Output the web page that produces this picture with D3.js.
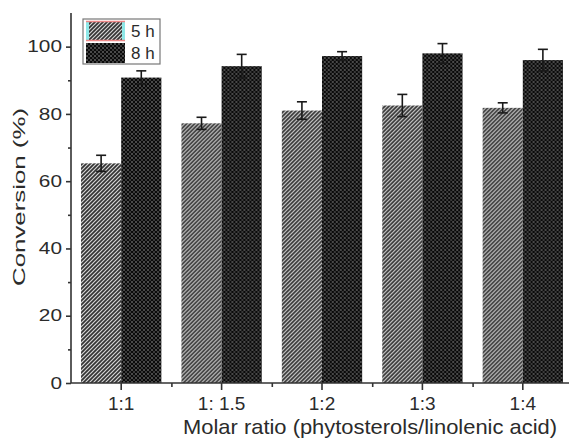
<!DOCTYPE html>
<html>
<head>
<meta charset="utf-8">
<script src="https://cdn.jsdelivr.net/npm/d3@7"></script>
<style>
  body { margin: 0; background: #fff; }
  svg text { font-family: "Liberation Sans", Arial, sans-serif; fill: #2b2b2b; }
</style>
</head>
<body>
<div id="chart"></div>
<script>
// data
const ratios = ["1:1", "1: 1.5", "1:2", "1:3", "1:4"];
const series = ["5 h", "8 h"];
const conv5h = [65.3, 77.2, 81.0, 82.5, 81.8];
const err5h  = [2.4, 1.8, 2.6, 3.3, 1.5];
const conv8h = [90.8, 94.2, 97.2, 98.0, 96.0];
const err8h  = [2.0, 3.5, 1.3, 2.9, 3.2];
const yTicks = [0, 20, 40, 60, 80, 100];
const yMinor = [10, 30, 50, 70, 90];

let rows = ratios.map((r, i) => ({
  ratio: r,
  vals: [{s: series[0], v: conv5h[i], e: err5h[i]}, {s: series[1], v: conv8h[i], e: err8h[i]}]
}));

let margin = {top: 13, right: -4, bottom: 57, left: 71},
  width = 569 - margin.left - margin.right,
  height = 440 - margin.top - margin.bottom;

let svg = d3.select("#chart").append("svg")
  .attr("width", 569).attr("height", 440);

// fill patterns
let defs = svg.append("defs");
let hatch = defs.append("pattern").attr("id", "hatch")
  .attr("patternUnits", "userSpaceOnUse").attr("width", 4).attr("height", 4);
hatch.append("rect").attr("width", 4).attr("height", 4).attr("fill", "#333");
hatch.append("path").attr("d", "M-1,1 l2,-2 M0,4 l4,-4 M3,5 l2,-2")
  .attr("stroke", "#d4d4d4").attr("stroke-width", 1.2);

let dots = defs.append("pattern").attr("id", "dots")
  .attr("patternUnits", "userSpaceOnUse").attr("width", 4).attr("height", 4);
dots.append("rect").attr("width", 4).attr("height", 4).attr("fill", "#0a0a0a");
dots.append("rect").attr("x", 0).attr("y", 0).attr("width", 2).attr("height", 2).attr("fill", "#4a4a4a");
dots.append("rect").attr("x", 2).attr("y", 2).attr("width", 2).attr("height", 2).attr("fill", "#3a3a3a");

const fills = {"5 h": "url(#hatch)", "8 h": "url(#dots)"};

let g = svg.append("g").attr("transform", "translate(" + margin.left + "," + margin.top + ")");

let x = d3.scaleBand().domain(ratios).range([0, width]).paddingInner(0).paddingOuter(0);
let x1 = d3.scaleBand().domain(series).range([0, x.bandwidth()]).paddingOuter(0.25);
let y = d3.scaleLinear().domain([0, 110]).range([height, 0]);

// bars
let groups = g.selectAll(".grp").data(rows).enter().append("g")
  .attr("transform", d => "translate(" + x(d.ratio) + ",0)");

groups.selectAll("rect").data(d => d.vals).enter().append("rect")
  .attr("x", d => x1(d.s))
  .attr("y", d => y(d.v))
  .attr("width", x1.bandwidth())
  .attr("height", d => height - y(d.v))
  .attr("fill", d => fills[d.s]);

// error bars
let eb = groups.selectAll(".err").data(d => d.vals).enter().append("g")
  .attr("stroke", "#1a1a1a")
  .attr("stroke-width", 1.6);
eb.append("line")
  .attr("x1", d => x1(d.s) + x1.bandwidth() / 2).attr("x2", d => x1(d.s) + x1.bandwidth() / 2)
  .attr("y1", d => y(d.v - d.e)).attr("y2", d => y(d.v + d.e));
eb.append("line")
  .attr("x1", d => x1(d.s) + x1.bandwidth() / 2 - 5).attr("x2", d => x1(d.s) + x1.bandwidth() / 2 + 5)
  .attr("y1", d => y(d.v + d.e)).attr("y2", d => y(d.v + d.e));
eb.append("line")
  .attr("x1", d => x1(d.s) + x1.bandwidth() / 2 - 5).attr("x2", d => x1(d.s) + x1.bandwidth() / 2 + 5)
  .attr("y1", d => y(d.v - d.e)).attr("y2", d => y(d.v - d.e));

// y axis
let yAxis = g.append("g").call(d3.axisLeft(y).tickValues(yTicks).tickSize(5).tickPadding(3));
g.append("g").call(d3.axisLeft(y).tickValues(yMinor).tickSize(3).tickFormat(""))
  .select(".domain").remove();
yAxis.select(".domain").attr("d", "M0," + y(110) + "V" + height);
// the labels in the figure are drawn wide
yAxis.selectAll(".tick text")
  .attr("font-size", 16)
  .attr("x", 0)
  .attr("transform", "translate(-9,0) scale(1.3,1)");

// x axis
let xAxis = g.append("g").attr("transform", "translate(0," + height + ")")
  .call(d3.axisBottom(x).tickSize(7).tickPadding(7));
xAxis.select(".domain").attr("d", "M0,0H" + width);
xAxis.selectAll(".tick text").attr("font-size", 19);
g.append("g").attr("transform", "translate(0," + height + ")")
  .call(d3.axisBottom(d3.scaleLinear().domain([0, ratios.length]).range([0, width]))
    .tickValues(d3.range(1, ratios.length)).tickSize(4).tickFormat(""))
  .select(".domain").remove();

svg.selectAll(".domain, .tick line").attr("stroke", "#333").attr("stroke-width", 1.6);
svg.selectAll(".tick text").attr("fill", "#2b2b2b");

// axis titles
svg.append("text")
  .attr("text-anchor", "middle")
  .attr("x", 370).attr("y", 434)
  .attr("font-size", 21)
  .attr("textLength", 374).attr("lengthAdjust", "spacingAndGlyphs")
  .text("Molar ratio (phytosterols/linolenic acid)");
svg.append("text")
  .attr("text-anchor", "middle")
  .attr("transform", "translate(25,197) rotate(-90)")
  .attr("font-size", 17)
  .attr("textLength", 178).attr("lengthAdjust", "spacingAndGlyphs")
  .text("Conversion (%)");

// legend
let lg = svg.append("g").attr("transform", "translate(83,19)");
lg.append("rect").attr("width", 77).attr("height", 45)
  .attr("fill", "#fff").attr("stroke", "#777").attr("stroke-width", 1.2);
series.forEach(function(s, i) {
  let row = lg.append("g").attr("transform", "translate(3," + (2 + i * 22) + ")");
  if (i === 0) {
    row.append("rect").attr("width", 39).attr("height", 20).attr("fill", "#8ee8e8");
    row.append("rect").attr("x", 3).attr("width", 33).attr("height", 20).attr("fill", fills[s]);
    row.append("line").attr("x1", 0).attr("x2", 39).attr("y1", 0.5).attr("y2", 0.5).attr("stroke", "#e88").attr("stroke-width", 1.5);
    row.append("line").attr("x1", 0).attr("x2", 39).attr("y1", 19.5).attr("y2", 19.5).attr("stroke", "#e88").attr("stroke-width", 1.5);
  } else {
    row.append("rect").attr("width", 39).attr("height", 20).attr("fill", fills[s]);
  }
  row.append("text").attr("x", 45).attr("y", 16).attr("font-size", 17).text(s);
});
</script>
</body>
</html>
